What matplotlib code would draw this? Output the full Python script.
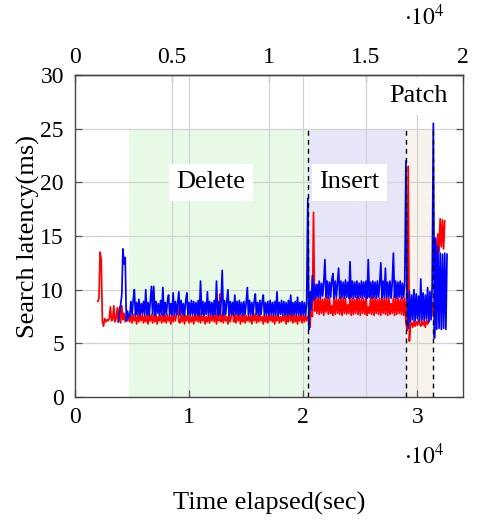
import numpy as np
import matplotlib
matplotlib.use("Agg")
import matplotlib.pyplot as plt

plt.rcParams['font.family'] = ['Liberation Serif', 'DejaVu Serif']
plt.rcParams['mathtext.fontset'] = 'stix'

# ---------------- data ----------------
# red series: one sample every 100 s starting at 2000 s
red_t0, red_dt = 2000, 100
red_ms = [
    8.9, 9.2, 13.5, 12.8, 7.0, 6.6, 7.3, 7.0, 7.2, 7.1,
    7.3, 8.4, 7.1, 7.2, 8.5, 7.0, 7.3, 8.3, 7.0, 8.4,
    6.9, 8.5, 7.2, 7.8, 7.0, 7.6, 7.1, 7.5,
    # delete phase
    7.0, 7.6, 6.9, 7.7, 7.1, 7.5, 6.8, 7.7, 7.0, 7.6,
    7.1, 7.7, 6.9, 7.5, 7.0, 7.8, 6.8, 7.6, 7.1, 7.7,
    6.9, 7.6, 7.0, 7.7, 6.8, 7.5, 7.1, 7.6, 6.9, 7.8,
    7.0, 7.6, 6.9, 7.7, 7.1, 7.5, 6.8, 7.7, 7.0, 7.6,
    7.1, 7.7, 8.6, 7.0, 6.9, 7.6, 7.0, 7.8, 6.8, 7.6,
    7.1, 7.7, 6.9, 7.5, 7.0, 7.6, 6.8, 7.7, 7.1, 7.6,
    7.0, 7.8, 6.9, 7.6, 7.1, 7.7, 6.8, 7.5, 7.0, 7.6,
    6.9, 7.7, 7.1, 7.6, 7.0, 7.8, 6.8, 7.6, 7.1, 9.6,
    7.0, 7.6, 6.9, 7.7, 7.1, 7.5, 6.8, 7.7, 7.0, 7.6,
    8.8, 7.0, 7.7, 6.9, 7.6, 7.1, 7.8, 6.8, 7.6, 7.0,
    7.7, 6.9, 7.6, 7.1, 7.5, 7.0, 7.7, 6.8, 7.6, 7.1,
    7.8, 6.9, 7.6, 7.0, 7.7, 7.1, 7.5, 6.8, 7.7, 7.0,
    7.6, 6.9, 7.8, 7.1, 7.6, 7.0, 7.7, 6.8, 7.6, 7.1,
    7.7, 6.9, 7.5, 7.0, 7.6, 7.1, 7.8, 6.8, 7.6, 7.0,
    8.4, 7.1, 7.6, 6.9, 7.7, 7.0, 7.6, 6.8, 7.7, 7.1,
    7.6, 6.9, 7.7, 7.0, 7.6, 7.1, 7.5,
    # insert phase
    7.3, 6.5, 9.0, 7.5, 17.2, 8.0, 9.2, 7.8,
    9.2, 7.7, 9.3, 7.8, 9.1, 7.6, 9.2, 7.9, 9.3, 7.7,
    9.2, 7.8, 8.5, 7.6, 9.3, 7.7, 9.2, 7.8, 9.1, 7.7,
    9.3, 7.6, 9.2, 7.8, 9.2, 7.7, 8.6, 7.8, 9.3, 7.6,
    9.2, 7.7, 9.1, 7.8, 9.3, 7.7, 9.2, 7.6, 9.2, 7.8,
    9.1, 7.7, 9.3, 7.6, 8.4, 7.8, 9.2, 7.7, 9.3, 7.6,
    9.2, 7.8, 9.1, 7.7, 9.2, 7.6, 9.3, 7.8, 9.2, 7.7,
    9.3, 7.6, 9.2, 7.7, 8.7, 7.8, 9.2, 7.6, 9.3, 7.7,
    9.2, 7.8, 9.1, 7.7, 9.3, 7.6, 9.2,
    # patch phase
    7.0, 6.2, 21.5, 5.2, 6.8,
    6.9, 6.5, 7.1, 6.6, 7.0, 6.7, 7.2, 6.8, 6.6, 7.1,
    6.7, 7.0, 6.5, 7.2, 6.8, 7.0,
    8.0, 8.5, 8.8, 7.5, 9.0, 12.0, 14.0, 15.2, 13.5, 16.6,
    14.0, 16.5, 13.8, 16.4,
]

# blue series: one sample every 100 s starting at 3800 s
blue_t0, blue_dt = 3800, 100
blue_ms = [
    7.0, 7.8, 8.6, 9.5, 13.8, 12.4, 13.0, 7.1, 8.0, 7.4,
    # delete phase
    7.6, 8.9, 7.7, 9.0, 10.0, 7.6, 8.8, 7.7, 9.1, 7.6,
    8.7, 7.8, 8.9, 7.6, 10.0, 7.7, 8.8, 7.6, 9.0, 10.3,
    7.7, 10.3, 7.6, 8.9, 7.8, 8.7, 7.6, 9.0, 7.7, 10.2,
    7.6, 8.8, 7.7, 8.9, 9.5, 7.6, 8.7, 7.7, 9.7, 7.6,
    8.9, 7.7, 8.8, 9.8, 7.6, 9.0, 7.7, 8.7, 7.6, 8.9,
    9.7, 7.7, 8.8, 7.6, 9.0, 7.7, 8.9, 7.6, 8.8, 7.7,
    9.0, 7.6, 10.8, 7.7, 8.9, 7.6, 8.8, 7.7, 9.8, 7.6,
    8.9, 7.7, 8.8, 7.6, 9.0, 7.7, 10.8, 7.6, 8.9, 7.7,
    8.8, 11.8, 7.6, 9.0, 7.7, 8.8, 10.0, 7.6, 8.9, 7.7,
    8.8, 7.6, 9.5, 7.7, 8.9, 7.6, 9.0, 7.7, 8.8, 7.6,
    8.9, 7.7, 8.8, 10.2, 7.6, 9.0, 7.7, 8.8, 7.6, 8.9,
    9.6, 7.7, 8.8, 7.6, 9.0, 7.7, 8.9, 9.5, 7.6, 8.8,
    7.7, 8.9, 7.6, 9.0, 7.7, 8.8, 7.6, 8.9, 7.7, 9.8,
    7.6, 8.8, 7.7, 9.0, 7.6, 8.9, 7.7, 8.8, 7.6, 9.0,
    7.7, 9.5, 7.6, 8.8, 7.7, 8.9, 7.6, 9.3, 7.7, 8.8,
    7.6, 8.9, 7.7, 8.8, 7.6, 8.7,
    # insert phase
    18.5, 6.3, 9.8, 8.2, 11.3, 9.0, 10.5, 9.2,
    10.5, 9.3, 10.8, 9.2, 10.6, 9.4, 10.7, 12.8, 9.3, 10.8,
    9.2, 10.7, 9.3, 10.9, 11.5, 9.2, 10.8, 9.3, 10.6, 12.0,
    9.2, 10.8, 9.3, 10.7, 9.2, 10.9, 9.3, 10.7, 9.2, 12.6,
    9.3, 10.8, 9.2, 10.7, 9.3, 10.8, 9.2, 10.6, 9.3, 10.8,
    9.2, 10.7, 9.3, 10.8, 9.2, 12.8, 9.3, 10.7, 9.2, 10.8,
    9.3, 10.7, 9.2, 10.8, 9.3, 10.6, 12.5, 9.2, 10.8, 9.3,
    12.0, 9.2, 10.7, 9.3, 10.8, 9.2, 10.7, 13.4, 9.3, 10.8,
    9.2, 10.7, 9.3, 10.8, 9.2, 10.6, 9.3, 10.7,
    # patch phase
    22.0, 9.0, 6.4,
    9.8, 7.0, 9.5, 7.2, 10.0, 7.1, 9.6, 7.3, 9.4, 7.0,
    11.0, 7.2, 9.7, 7.1, 9.5, 7.3, 10.2, 7.0, 9.8, 7.2, 10.5,
    25.5, 5.5,
    14.8, 6.3, 14.0, 6.4, 13.4, 6.3, 13.3, 6.4, 13.4, 6.3, 13.3,
]

# phases (start, end in seconds)
phase_names = ["Delete", "Insert", "Patch"]
phase_start = [4700, 20440, 29040]
phase_end = [20440, 29040, 31400]
phase_colors = ["#e6fae6", "#e6e6f8", "#f7f2ec"]
phase_label_x = [11930, 24035, 30090]
phase_label_y = [20, 20, 28]
shade_top = 25

# ---------------- plot ----------------
red_t = red_t0 + red_dt * np.arange(len(red_ms))
blue_t = blue_t0 + blue_dt * np.arange(len(blue_ms))

fig = plt.figure(figsize=(4.81, 5.22), dpi=100)
ax = fig.add_axes([75/481, 1-397/522, 388/481, 322/522])
ax.set_xlim(0, 34000)
ax.set_ylim(0, 30)

for s, e, c in zip(phase_start, phase_end, phase_colors):
    ax.fill_between([s, e], 0, shade_top, color=c, lw=0, zorder=0.2)
for b in phase_start[1:] + [phase_end[-1]]:
    ax.plot([b, b], [0, shade_top], color='black', lw=1.0,
            dashes=(3.5, 3), zorder=3)

top_scale = 1.7
top_ticks = [0, 5000, 10000, 15000, 20000]
top_labels = ["0", "0.5", "1", "1.5", "2"]
bot_ticks = [0, 10000, 20000, 30000]
bot_labels = ["0", "1", "2", "3"]
y_ticks = [0, 5, 10, 15, 20, 25, 30]

gridc = '#d3d3d3'
for yv in y_ticks[1:-1]:
    ax.axhline(yv, color=gridc, lw=0.9, zorder=0.5)
for xv in bot_ticks[1:] + [t * top_scale for t in top_ticks[1:-1]]:
    ax.axvline(xv, color=gridc, lw=0.9, zorder=0.5)

ax.plot(red_t, red_ms, color='#ff0000', lw=1.25, zorder=2)
ax.plot(blue_t, blue_ms, color='#0000ff', lw=1.25, zorder=2.1)

for name, tx, ty in zip(phase_names, phase_label_x, phase_label_y):
    ax.text(tx, ty, name, ha='center', va='center', fontsize=19,
            bbox=dict(boxstyle='square,pad=0.28', fc='white', ec='none'),
            zorder=5)

ax.set_xticks(bot_ticks)
ax.set_xticklabels(bot_labels)
ax.set_yticks(y_ticks)
ax.tick_params(axis='both', direction='in', length=5, width=0.9,
               color='#555555', labelsize=17, top=False, right=True)
ax.tick_params(axis='x', pad=7)
ax.tick_params(axis='y', pad=8)

sec = ax.secondary_xaxis('top', functions=(lambda x: x / top_scale,
                                           lambda x: x * top_scale))
sec.set_xticks(top_ticks)
sec.set_xticklabels(top_labels)
sec.tick_params(direction='in', length=5, width=0.9, color='#555555',
                labelsize=17, pad=5)
for sp in list(ax.spines.values()) + [sec.spines['top']]:
    sp.set_color('#444444')
    sp.set_linewidth(1.0)

ax.set_xlabel("Time elapsed(sec)", fontsize=19, va='center')
ax.xaxis.set_label_coords(0.5, -0.33)
ax.set_ylabel("Search latency(ms)", fontsize=19, va='center')
ax.yaxis.set_label_coords(-0.121, 0.5)

fig.text(424/481, 1-17/522, r"$\cdot10^{4}$", ha='center', va='center',
         fontsize=17)
fig.text(424/481, 1-456/522, r"$\cdot10^{4}$", ha='center', va='center',
         fontsize=17)

fig.savefig("out.png", dpi=100)
